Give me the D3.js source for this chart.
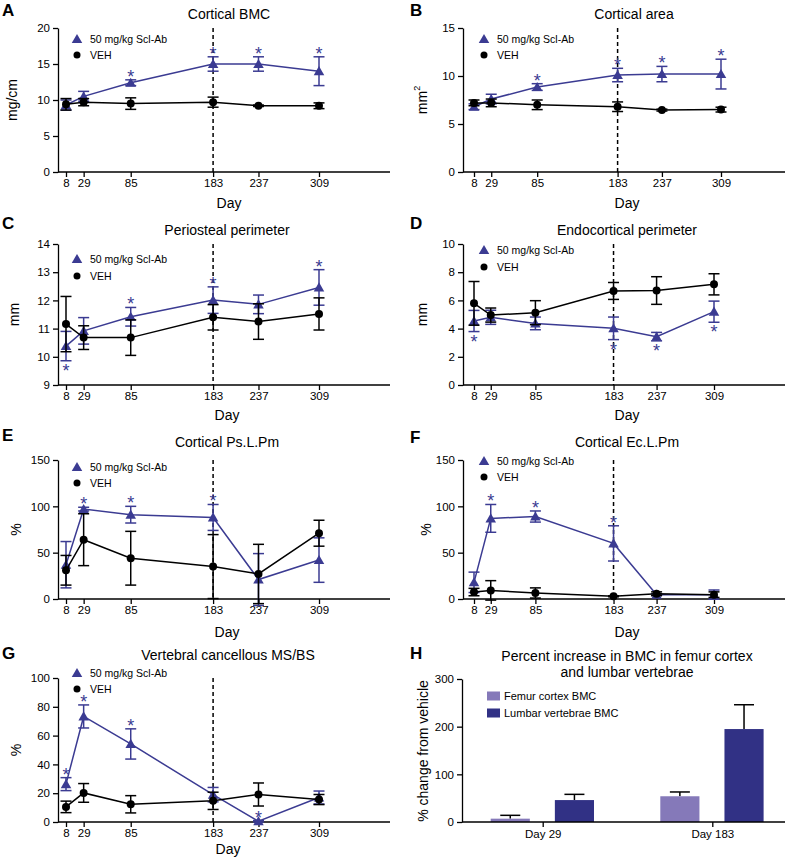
<!DOCTYPE html>
<html><head><meta charset="utf-8">
<script src="https://cdn.jsdelivr.net/npm/d3@7"></script>
<style>body{margin:0;background:#fff} svg{display:block} text{font-family:"Liberation Sans",Arial,sans-serif}</style>
</head><body><svg id="c" width="790" height="858"></svg>
<script>
const days = [8, 29, 85, 183, 237, 309];
const seriesNames = ["50 mg/kg Scl-Ab", "VEH"];

// A Cortical BMC
const aScl = [9.3, 10.5, 12.4, 15.0, 15.0, 14.0];
const aSclErr = [0.7, 0.7, 0.4, 1.0, 1.0, 2.0];
const aVeh = [9.4, 9.7, 9.5, 9.7, 9.2, 9.2];
const aVehErr = [0.8, 0.5, 0.8, 0.7, 0.1, 0.4];
const aStars = ["", "", "up", "up", "up", "up"];
const aTicks = [0, 5, 10, 15, 20];

// B Cortical area
const bScl = [6.8, 7.6, 8.85, 10.1, 10.2, 10.2];
const bSclErr = [0.3, 0.5, 0.35, 0.7, 0.8, 1.55];
const bVeh = [7.2, 7.2, 7.0, 6.8, 6.45, 6.5];
const bVehErr = [0.3, 0.4, 0.5, 0.5, 0.1, 0.25];
const bStars = ["", "", "up", "up", "up", "up"];
const bTicks = [0, 5, 10, 15];

// C Periosteal perimeter
const cScl = [10.38, 10.92, 11.42, 12.01, 11.86, 12.46];
const cSclErr = [0.52, 0.47, 0.33, 0.47, 0.33, 0.63];
const cVeh = [11.16, 10.68, 10.68, 11.4, 11.25, 11.52];
const cVehErr = [0.98, 0.42, 0.63, 0.45, 0.63, 0.57];
const cStars = ["down", "", "up", "up", "", "up"];
const cTicks = [9, 10, 11, 12, 13, 14];

// D Endocortical perimeter
const dScl = [4.54, 4.8, 4.37, 4.02, 3.43, 5.2];
const dSclErr = [0.75, 0.5, 0.45, 0.8, 0.3, 0.75];
const dVeh = [5.79, 4.96, 5.13, 6.67, 6.7, 7.14];
const dVehErr = [1.55, 0.5, 0.85, 0.6, 0.98, 0.75];
const dStars = ["down", "", "", "down", "down", "down"];
const dTicks = [0, 2, 4, 6, 8, 10];

// E Cortical Ps.L.Pm
const eScl = [37, 97, 91, 88, 21, 42];
const eSclErr = [25, 2, 9, 14, 28, 24];
const eVeh = [31, 64, 44, 35, 27, 71];
const eVehErr = [16, 28, 29, 34.5, 32, 14];
const eStars = ["", "up", "up", "up", "", ""];
const eTicks = [0, 50, 100, 150];

// F Cortical Ec.L.Pm
const fScl = [18, 87, 89, 60, 4.7, 4.7];
const fSclErr = [11, 15, 6, 19, 1, 5];
const fVeh = [7.5, 9.3, 6.5, 2.9, 5.7, 4.7];
const fVehErr = [4, 10.5, 5.5, 0.5, 2, 3];
const fStars = ["", "up", "up", "up", "", ""];
const fTicks = [0, 50, 100, 150];

// G Vertebral cancellous MS/BS
const gScl = [26.3, 73.3, 54.2, 19, 0.5, 17];
const gSclErr = [4.5, 8, 10.5, 5, 0.5, 4.5];
const gVeh = [10.5, 20.2, 12.3, 14.7, 19.1, 15.6];
const gVehErr = [4, 6.5, 6, 6, 8, 3.5];
const gStars = ["up", "up", "up", "", "up", ""];
const gTicks = [0, 20, 40, 60, 80, 100];

// H bar chart
const hGroups = ["Day 29", "Day 183"];
const hSeries = ["Femur cortex BMC", "Lumbar vertebrae BMC"];
const hFemur = [7, 54];
const hFemurErr = [7, 9];
const hLumbar = [46, 195];
const hLumbarErr = [12, 51];
const hTicks = [0, 100, 200, 300];

const BLUE = "#3b3b92";
const FEMUR = "#8579b9";
const LUMBAR = "#313185";

const svg = d3.select("#c");

const panels = [
  {letter:"A", title:"Cortical BMC", ylab:"mg/cm", scl:aScl, sclE:aSclErr, veh:aVeh, vehE:aVehErr, stars:aStars, ticks:aTicks,
   L:58, T:28, B:172, R:390, x8:66, x309:319, tx:229, ty:14, lx:2, ly:16, ylx:13, dayx:229, dayy:203, legx:77, legy:[39,55]},
  {letter:"B", title:"Cortical area", ylab:"mm2", scl:bScl, sclE:bSclErr, veh:bVeh, vehE:bVehErr, stars:bStars, ticks:bTicks,
   L:463, T:28, B:172, R:785, x8:474, x309:721, tx:634, ty:14, lx:410, ly:16, ylx:423, dayx:627, dayy:203, legx:484, legy:[39,55]},
  {letter:"C", title:"Periosteal perimeter", ylab:"mm", scl:cScl, sclE:cSclErr, veh:cVeh, vehE:cVehErr, stars:cStars, ticks:cTicks,
   L:58, T:244, B:385, R:390, x8:66, x309:319, tx:227, ty:230, lx:2, ly:229, ylx:15, dayx:227, dayy:415, legx:77, legy:[259,276]},
  {letter:"D", title:"Endocortical perimeter", ylab:"mm", scl:dScl, sclE:dSclErr, veh:dVeh, vehE:dVehErr, stars:dStars, ticks:dTicks,
   L:463, T:244, B:385, R:785, x8:474, x309:714, tx:627, ty:230, lx:410, ly:229, ylx:423, dayx:627, dayy:415, legx:484, legy:[250,267]},
  {letter:"E", title:"Cortical Ps.L.Pm", ylab:"%", scl:eScl, sclE:eSclErr, veh:eVeh, vehE:eVehErr, stars:eStars, ticks:eTicks,
   L:58, T:460, B:599, R:390, x8:66, x309:319, tx:227, ty:442, lx:2, ly:441, ylx:17, dayx:227, dayy:632, legx:77, legy:[467,483]},
  {letter:"F", title:"Cortical Ec.L.Pm", ylab:"%", scl:fScl, sclE:fSclErr, veh:fVeh, vehE:fVehErr, stars:fStars, ticks:fTicks,
   L:463, T:460, B:599, R:785, x8:474, x309:714, tx:627, ty:442, lx:410, ly:443, ylx:427, dayx:627, dayy:632, legx:484, legy:[461,477]},
  {letter:"G", title:"Vertebral cancellous MS/BS", ylab:"%", scl:gScl, sclE:gSclErr, veh:gVeh, vehE:gVehErr, stars:gStars, ticks:gTicks,
   L:58, T:678, B:822, R:390, x8:66, x309:319, tx:228, ty:655, lx:2, ly:659, ylx:17, dayx:228, dayy:849, legx:77, legy:[673,689]},
];

const tri = d3.symbol().type(d3.symbolTriangle).size(48);

function yLabel(g, text, x, y) {
  const t = g.append("text").attr("transform", `translate(${x},${y}) rotate(-90)`)
    .attr("text-anchor","middle").attr("dominant-baseline","middle").attr("font-size",14).attr("fill","#000");
  if (text === "mm2") {
    t.append("tspan").text("mm");
    t.append("tspan").attr("font-size",9).attr("dy",-5).text("2");
  } else t.text(text);
}

function styleAxis(a) {
  a.selectAll("path,line").attr("stroke","#000").attr("stroke-width",1.3);
  a.selectAll("text").attr("font-size",11.5).attr("fill","#000").attr("font-family",'"Liberation Sans",Arial,sans-serif');
}

panels.forEach(p => {
  const g = svg.append("g");
  const x = d3.scaleLinear().domain([days[0], days[days.length-1]]).range([p.x8, p.x309]);
  const y = d3.scaleLinear().domain([p.ticks[0], p.ticks[p.ticks.length-1]]).range([p.B, p.T]);

  g.append("text").attr("x", p.lx).attr("y", p.ly).attr("font-size",17).attr("font-weight","bold").text(p.letter);
  g.append("text").attr("x", p.tx).attr("y", p.ty).attr("dy","0.36em").attr("text-anchor","middle").attr("font-size",14).text(p.title);

  g.append("line").attr("x1", x(183)).attr("x2", x(183)).attr("y1", p.T).attr("y2", p.B)
    .attr("stroke","#000").attr("stroke-width",1.5).attr("stroke-dasharray","4,3");

  const ya = g.append("g").attr("transform", `translate(${p.L},0)`)
    .call(d3.axisLeft(y).tickValues(p.ticks).tickFormat(d3.format("d")).tickSize(5).tickSizeOuter(0).tickPadding(3));
  styleAxis(ya);
  const xa = g.append("g").attr("transform", `translate(0,${p.B})`)
    .call(d3.axisBottom(x).tickValues(days).tickFormat(d3.format("d")).tickSize(5).tickPadding(2));
  xa.select(".domain").remove();
  styleAxis(xa);
  g.append("line").attr("x1", p.L).attr("x2", p.R).attr("y1", p.B).attr("y2", p.B).attr("stroke","#000").attr("stroke-width",1.3);

  yLabel(g, p.ylab, p.ylx, (p.T + p.B) / 2);
  g.append("text").attr("x", p.dayx).attr("y", p.dayy).attr("dy","0.36em").attr("text-anchor","middle").attr("font-size",14).text("Day");

  const series = [
    {vals:p.scl, err:p.sclE, color:BLUE, shape:"tri"},
    {vals:p.veh, err:p.vehE, color:"#000", shape:"circ"}
  ];
  series.forEach(s => {
    const sg = g.append("g");
    const line = d3.line().x((d,i) => x(days[i])).y(d => y(d));
    sg.append("path").datum(s.vals).attr("d", line).attr("fill","none").attr("stroke", s.color).attr("stroke-width",1.5);
    s.vals.forEach((v, i) => {
      const cx = x(days[i]);
      const y1 = y(v + s.err[i]), y0 = y(v - s.err[i]);
      sg.append("line").attr("x1",cx).attr("x2",cx).attr("y1",y1).attr("y2",y0).attr("stroke",s.color).attr("stroke-width",1.5);
      [y1, y0].forEach(yy => sg.append("line").attr("x1",cx-5.5).attr("x2",cx+5.5).attr("y1",yy).attr("y2",yy).attr("stroke",s.color).attr("stroke-width",1.5));
      if (s.shape === "tri") sg.append("path").attr("d", tri).attr("transform",`translate(${cx},${y(v)+1})`).attr("fill", s.color);
      else sg.append("circle").attr("cx",cx).attr("cy",y(v)).attr("r",4).attr("fill", s.color);
    });
  });

  p.stars.forEach((st, i) => {
    if (!st) return;
    const cx = x(days[i]);
    const v = p.scl[i], e = p.sclE[i];
    const yy = st === "up" ? y(v + e) + 3 : y(v - e) + 16;
    g.append("text").attr("x", cx).attr("y", yy).attr("text-anchor","middle").attr("font-size",18).attr("fill",BLUE).text("*");
  });

  g.append("path").attr("d", tri).attr("transform",`translate(${p.legx},${p.legy[0]+1})`).attr("fill",BLUE);
  g.append("circle").attr("cx",p.legx).attr("cy",p.legy[1]).attr("r",3.5).attr("fill","#000");
  seriesNames.forEach((n, k) => g.append("text").attr("x", p.legx + 13).attr("y", p.legy[k]).attr("dy","0.35em")
    .attr("font-size",10.5).attr("font-family","'Open Sans','Liberation Sans',sans-serif").text(n));
});

// Panel H
(function(){
  const L = 462, T = 679, B = 822, R = 785;
  const g = svg.append("g");
  const y = d3.scaleLinear().domain([hTicks[0], hTicks[hTicks.length-1]]).range([B, T]);
  const x = d3.scalePoint().domain(hGroups).range([542.7, 712.3]);
  const sub = d3.scaleBand().domain(hSeries).range([-52, 51.3]).paddingInner(0.39);

  g.append("text").attr("x", 410).attr("y", 659).attr("font-size",17).attr("font-weight","bold").text("H");
  g.append("text").attr("x", 627).attr("y", 656).attr("dy","0.36em").attr("text-anchor","middle").attr("font-size",14).text("Percent increase in BMC in femur cortex");
  g.append("text").attr("x", 627).attr("y", 672).attr("dy","0.36em").attr("text-anchor","middle").attr("font-size",14).text("and lumbar vertebrae");

  const ya = g.append("g").attr("transform",`translate(${L},0)`)
    .call(d3.axisLeft(y).tickValues(hTicks).tickFormat(d3.format("d")).tickSize(5).tickSizeOuter(0).tickPadding(3));
  styleAxis(ya);
  yLabel(g, "% change from vehicle", 424, 751);

  const data = [
    {name:hSeries[0], vals:hFemur, err:hFemurErr, color:FEMUR},
    {name:hSeries[1], vals:hLumbar, err:hLumbarErr, color:LUMBAR}
  ];
  data.forEach(s => {
    s.vals.forEach((v, i) => {
      const bx = x(hGroups[i]) + sub(s.name);
      const cx = bx + sub.bandwidth() / 2;
      g.append("line").attr("x1",cx).attr("x2",cx).attr("y1",y(v)).attr("y2",y(v + s.err[i])).attr("stroke","#000").attr("stroke-width",1.5);
      g.append("line").attr("x1",cx-10).attr("x2",cx+10).attr("y1",y(v + s.err[i])).attr("y2",y(v + s.err[i])).attr("stroke","#000").attr("stroke-width",1.5);
      g.append("rect").attr("x",bx).attr("y",y(v)).attr("width",sub.bandwidth()).attr("height",B - y(v)).attr("fill",s.color);
    });
  });

  const xa = g.append("g").attr("transform",`translate(0,${B})`)
    .call(d3.axisBottom(x).tickSize(5).tickPadding(3));
  xa.select(".domain").remove();
  styleAxis(xa);
  g.append("line").attr("x1",L).attr("x2",R).attr("y1",B).attr("y2",B).attr("stroke","#000").attr("stroke-width",1.3);

  data.forEach((s, k) => {
    const ly = 696 + k * 17;
    g.append("rect").attr("x",487).attr("y",ly-4.5).attr("width",13).attr("height",9).attr("fill",s.color);
    g.append("text").attr("x",504).attr("y",ly).attr("dy","0.35em").attr("font-size",11).text(s.name);
  });
})();
</script></body></html>
